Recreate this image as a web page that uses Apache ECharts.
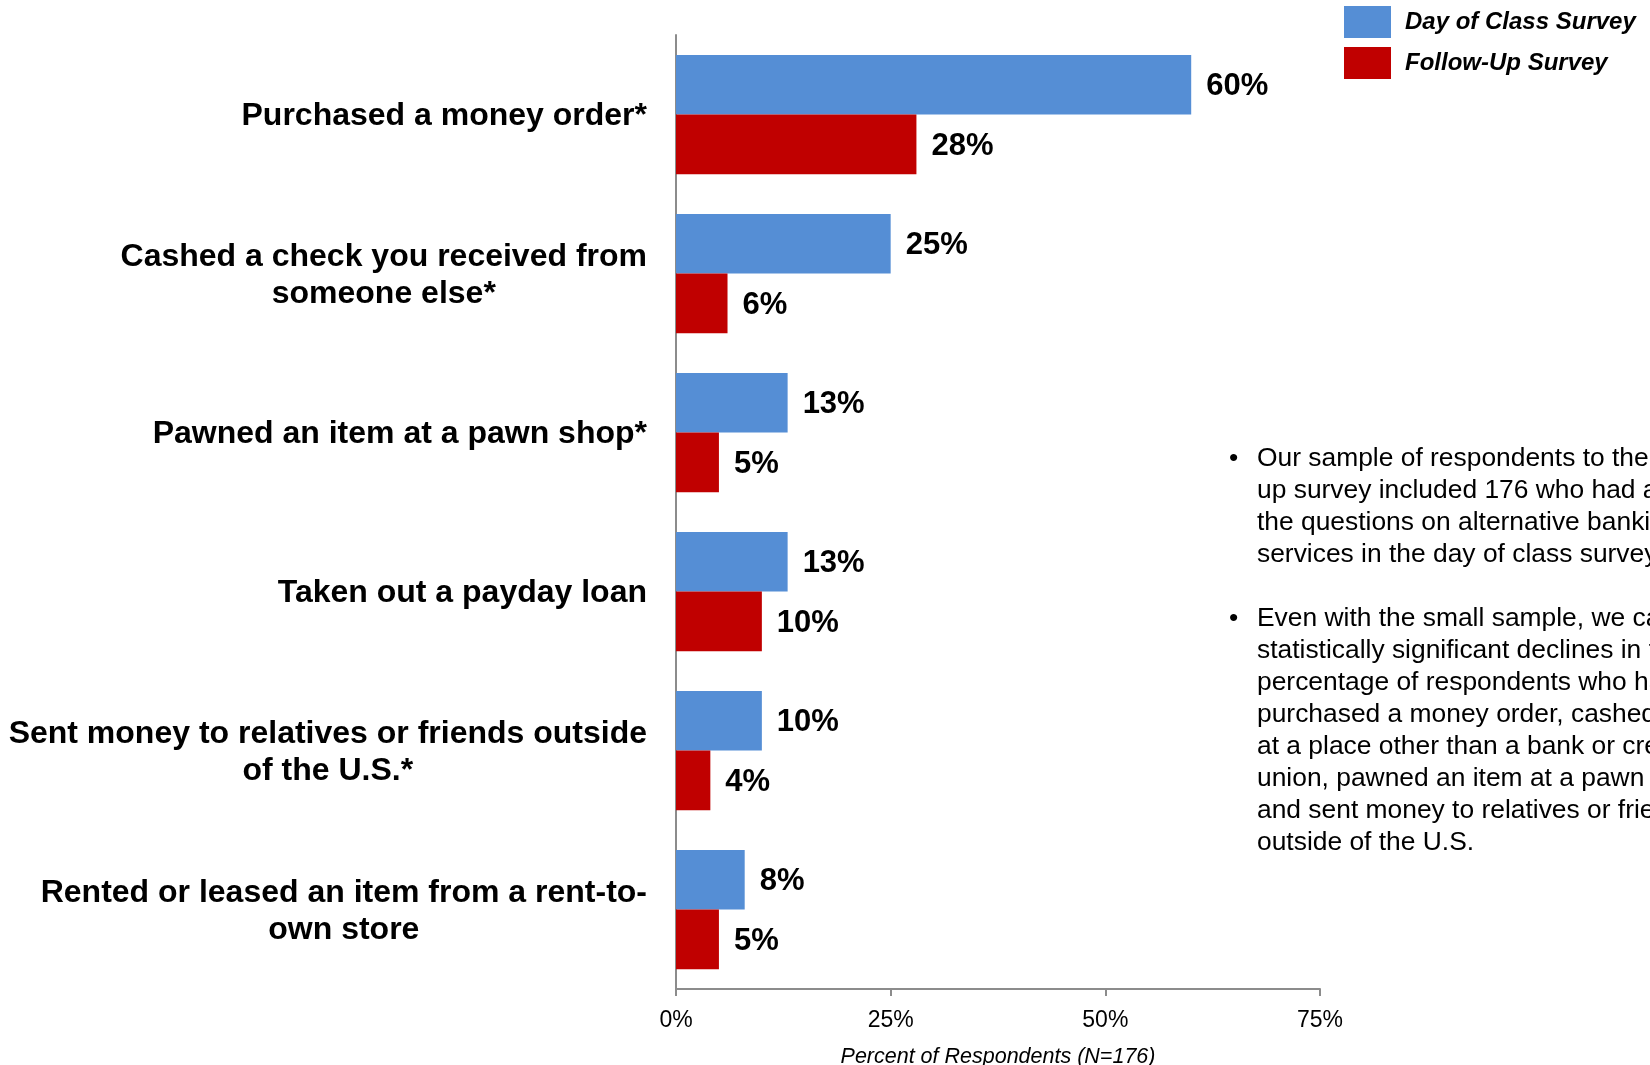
<!DOCTYPE html>
<html>
<head>
<meta charset="utf-8">
<style>
  html, body { margin: 0; padding: 0; background: #ffffff; }
  #chart { width: 1650px; height: 1065px; }
</style>
<script src="https://cdn.jsdelivr.net/npm/echarts@6/dist/echarts.min.js"></script>
</head>
<body>
<div id="chart"></div>
<script>
// Alternative financial services used, before and after the class
const categories = [
  'Purchased a money order*',
  'Cashed a check you received from\nsomeone else*',
  'Pawned an item at a pawn shop*',
  'Taken out a payday loan',
  'Sent money to relatives or friends outside\nof the U.S.*',
  'Rented or leased an item from a rent-to-\nown store'
];
const dayOfClass = [60, 25, 13, 13, 10, 8];
const followUp = [28, 6, 5, 10, 4, 5];
const seriesNames = ['Day of Class Survey', 'Follow-Up Survey'];
const percentTicks = [0, 25, 50, 75];
const axisTitle = 'Percent of Respondents (N=176)';

const notes = [
  ['Our sample of respondents to the follow-',
   'up survey included 176 who had answered',
   'the questions on alternative banking',
   'services in the day of class survey.'],
  ['Even with the small sample, we can see',
   'statistically significant declines in the',
   'percentage of respondents who had',
   'purchased a money order, cashed a check',
   'at a place other than a bank or credit',
   'union, pawned an item at a pawn shop,',
   'and sent money to relatives or friends',
   'outside of the U.S.']
];

const FONT = '"Liberation Sans", Arial, Helvetica, sans-serif';
const BLUE = '#558ed5';
const RED = '#c00000';

const chart = echarts.init(document.getElementById('chart'), null, { renderer: 'canvas' });

const valueLabel = {
  show: true,
  position: 'right',
  distance: 15,
  offset: [0, 2],
  formatter: '{c}%',
  color: '#000',
  fontFamily: FONT,
  fontWeight: 'bold',
  fontSize: 31
};

// bullet paragraphs on the right
const noteTop = [443, 603];
const noteGraphics = [];
notes.forEach((lines, i) => {
  noteGraphics.push({
    type: 'text',
    left: 1229,
    top: noteTop[i],
    style: { text: '\u2022', font: '26.4px ' + FONT, fill: '#000', lineHeight: 31.9 }
  });
  noteGraphics.push({
    type: 'text',
    left: 1257,
    top: noteTop[i],
    style: { text: lines.join('\n'), font: '26.4px ' + FONT, fill: '#000', lineHeight: 31.9 }
  });
});

chart.setOption({
  animation: false,
  backgroundColor: '#ffffff',
  textStyle: { fontFamily: FONT },
  legend: {
    data: seriesNames,
    orient: 'vertical',
    left: 1339,
    top: 1,
    itemWidth: 47,
    itemHeight: 32,
    itemGap: 9,
    icon: 'rect',
    textStyle: {
      color: '#000',
      fontFamily: FONT,
      fontWeight: 'bold',
      fontStyle: 'italic',
      fontSize: 24,
      padding: [0, 0, 0, 9]
    }
  },
  grid: {
    left: 676, right: 330, top: 35, bottom: 76,
    containLabel: false,
    outerBoundsMode: 'none'
  },
  xAxis: {
    type: 'value',
    min: 0,
    max: 75,
    interval: 25,
    name: axisTitle,
    nameLocation: 'middle',
    nameGap: 57,
    nameTextStyle: { color: '#000', fontStyle: 'italic', fontSize: 21.5, fontFamily: FONT },
    axisLine: { show: true, lineStyle: { color: '#8c8c8c', width: 2 } },
    axisTick: { show: true, length: 7, lineStyle: { color: '#8c8c8c', width: 2 } },
    splitLine: { show: false },
    axisLabel: {
      margin: 20,
      color: '#000',
      fontSize: 23,
      fontFamily: FONT,
      formatter: v => percentTicks.includes(v) ? v + '%' : ''
    }
  },
  yAxis: {
    type: 'category',
    data: categories,
    inverse: true,
    axisLine: { show: true, lineStyle: { color: '#8c8c8c', width: 2 } },
    axisTick: { show: false },
    axisLabel: {
      margin: 29,
      padding: [4, 0, 0, 0],
      color: '#000',
      formatter: v => v.split('\n').map(l => '{c|' + l + '}').join('\n'),
      rich: {
        c: {
          align: 'center',
          color: '#000',
          fontFamily: FONT,
          fontWeight: 'bold',
          fontSize: 32,
          lineHeight: 37
        }
      }
    }
  },
  series: [
    {
      name: seriesNames[0],
      type: 'bar',
      data: dayOfClass,
      barGap: '0%',
      barCategoryGap: '25%',
      itemStyle: { color: BLUE },
      label: valueLabel
    },
    {
      name: seriesNames[1],
      type: 'bar',
      data: followUp,
      barGap: '0%',
      barCategoryGap: '25%',
      itemStyle: { color: RED },
      label: valueLabel
    }
  ],
  graphic: noteGraphics
});
</script>
</body>
</html>
